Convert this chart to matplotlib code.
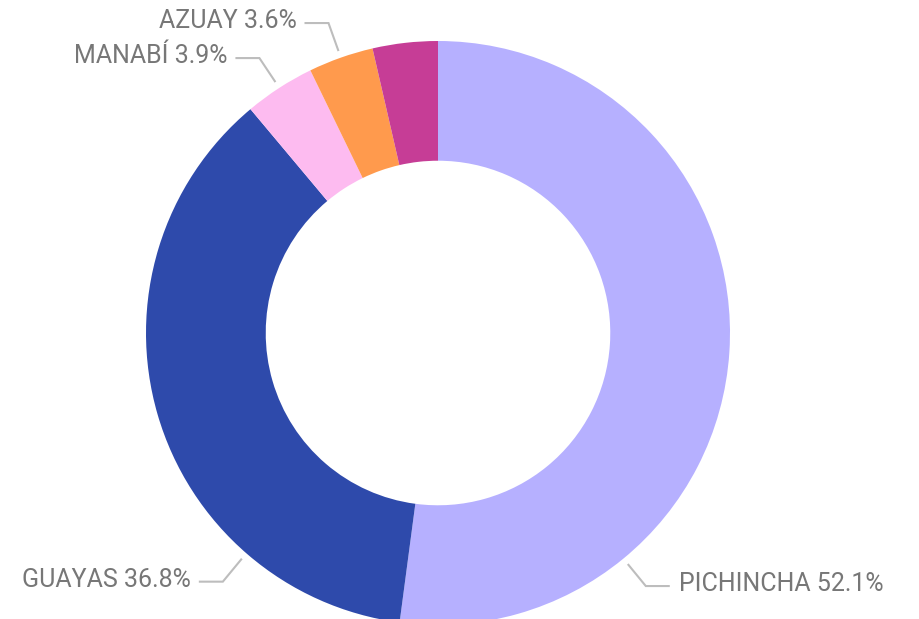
import numpy as np
import matplotlib.pyplot as plt

# Provinces and share of total (%)
provinces = ['PICHINCHA', 'GUAYAS', 'MANABÍ', 'AZUAY', '']
shares = [52.1, 36.8, 3.9, 3.6, 3.6]
colors = ['#B6B0FF', '#2E4AAB', '#FDBBF0', '#FF9A4D', '#C63D96']

# label layout: anchor angle (None = wedge middle), elbow offset, side
label_layout = {
    'PICHINCHA': (-50.6, (18, -22), 'right'),
    'GUAYAS': (-131.0, (-19, -23), 'left'),
    'MANABÍ': (None, (-16, 24), 'left'),
    'AZUAY': (None, (-10, 28), 'left'),
}

W, H = 920, 619
cx, cy, r = 438, H - 333, 292
ring = 0.41

plt.rcParams['font.family'] = ['Roboto', 'DejaVu Sans']

fig = plt.figure(figsize=(W / 100, H / 100), dpi=100)
ax = fig.add_axes([0, 0, 1, 1])
ax.set_xlim(0, W)
ax.set_ylim(0, H)
ax.axis('off')

wedges, _ = ax.pie(shares, colors=colors, startangle=90, counterclock=False,
                   center=(cx, cy), radius=r,
                   wedgeprops=dict(width=r * ring, linewidth=0))
ax.set_xlim(0, W)
ax.set_ylim(0, H)

line_col = '#BDBDBD'
text_col = '#777777'
for w, name, val in zip(wedges, provinces, shares):
    if name not in label_layout:
        continue
    ang, (dx, dy), side = label_layout[name]
    if ang is None:
        ang = (w.theta1 + w.theta2) / 2
    a = np.deg2rad(ang)
    x0 = cx + (r + 7) * np.cos(a)
    y0 = cy + (r + 7) * np.sin(a)
    x1, y1 = x0 + dx, y0 + dy
    hl = 24 if side == 'right' else -24
    x2 = x1 + hl
    ax.plot([x0, x1, x2], [y0, y1, y1], color=line_col, lw=1.5,
            solid_capstyle='butt', solid_joinstyle='miter')
    gap = 9 if side == 'right' else -8
    ax.text(x2 + gap, y1 + 2, f'{name} {val}%', color=text_col, fontsize=18,
            ha='left' if side == 'right' else 'right', va='center')

fig.savefig('out.png', dpi=100)
